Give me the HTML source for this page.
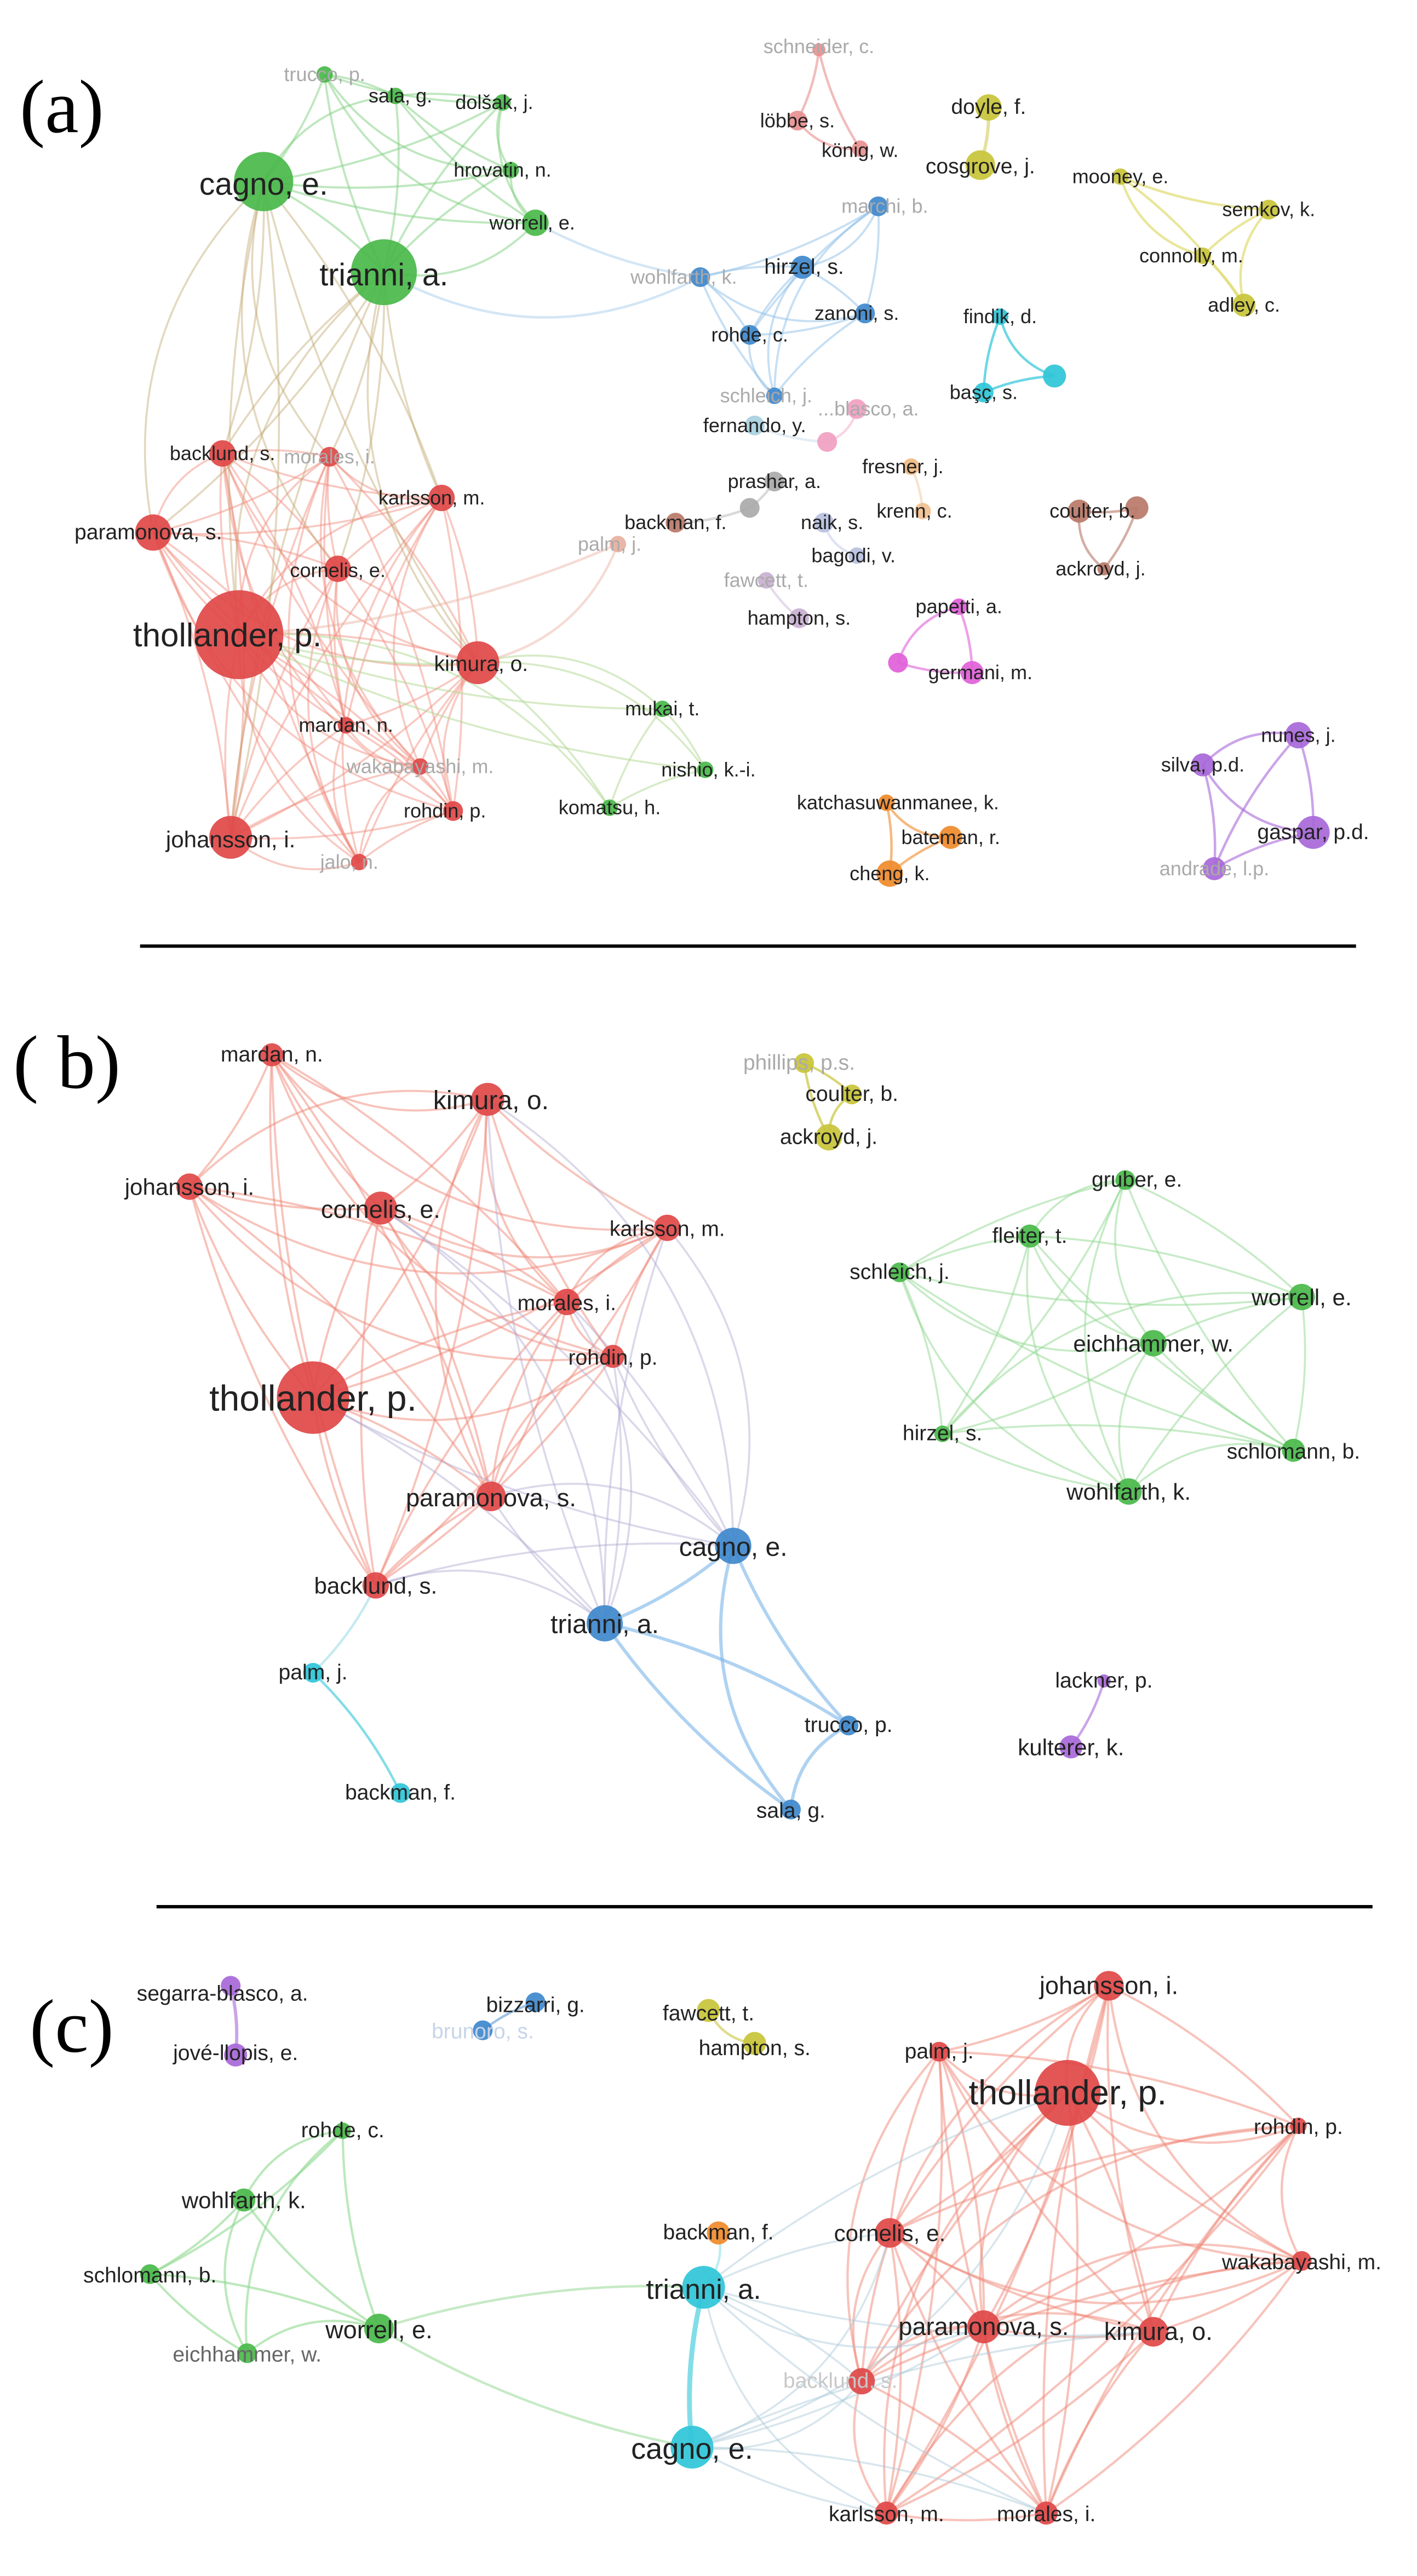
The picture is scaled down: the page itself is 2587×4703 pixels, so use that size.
<!DOCTYPE html>
<html><head><meta charset="utf-8">
<style>
html,body{margin:0;padding:0;background:#fff;}
svg{display:block;}
text{font-family:"Liberation Sans",sans-serif;fill:#222;text-anchor:middle;}
.pl{font-family:"Liberation Serif",serif;font-size:46px;text-anchor:start;fill:#000;}
.g{fill:#aaa;}
</style></head><body>
<svg id="s" width="2587" height="4703" viewBox="0 0 860 1563" xmlns="http://www.w3.org/2000/svg">
<g id="edges" fill="none"></g>
<g id="nodes"></g>
<text class="pl" x="12" y="80">(a)</text>
<text class="pl" x="8" y="660">( b)</text>
<text class="pl" x="18" y="1245">(c)</text>
<line x1="85" y1="574" x2="823" y2="574" stroke="#000" stroke-width="2"/>
<line x1="95" y1="1157" x2="833" y2="1157" stroke="#000" stroke-width="2"/>
<g id="labels">
<!-- (a) -->
<text class="g" x="197" y="49" font-size="12">trucco, p.</text>
<text x="243" y="62" font-size="12">sala, g.</text>
<text x="300" y="66" font-size="12">dolšak, j.</text>
<text x="305" y="107" font-size="12">hrovatin, n.</text>
<text x="160" y="118" font-size="19">cagno, e.</text>
<text x="233" y="173" font-size="19">trianni, a.</text>
<text x="323" y="139" font-size="12">worrell, e.</text>
<text x="135" y="279" font-size="12">backlund, s.</text>
<text class="g" x="200" y="281" font-size="12">morales, i.</text>
<text x="262" y="306" font-size="12">karlsson, m.</text>
<text x="90" y="327" font-size="13">paramonova, s.</text>
<text x="205" y="350" font-size="12">cornelis, e.</text>
<text x="138" y="392" font-size="20">thollander, p.</text>
<text x="292" y="407" font-size="13">kimura, o.</text>
<text x="210" y="444" font-size="12">mardan, n.</text>
<text class="g" x="255" y="469" font-size="12">wakabayashi, m.</text>
<text x="270" y="496" font-size="12">rohdin, p.</text>
<text x="140" y="514" font-size="14">johansson, i.</text>
<text class="g" x="212" y="527" font-size="12">jalo, n.</text>
<text class="g" x="370" y="334" font-size="12">palm, j.</text>
<text x="402" y="434" font-size="12">mukai, t.</text>
<text x="430" y="471" font-size="12">nishio, k.-i.</text>
<text x="370" y="494" font-size="12">komatsu, h.</text>
<text class="g" x="415" y="172" font-size="12">wohlfarth, k.</text>
<text x="488" y="166" font-size="13">hirzel, s.</text>
<text class="g" x="537" y="129" font-size="12">marchi, b.</text>
<text x="520" y="194" font-size="12">zanoni, s.</text>
<text x="455" y="207" font-size="12">rohde, c.</text>
<text class="g" x="465" y="244" font-size="12">schleich, j.</text>
<text class="g" x="497" y="32" font-size="12">schneider, c.</text>
<text x="484" y="77" font-size="12">löbbe, s.</text>
<text x="522" y="95" font-size="12">könig, w.</text>
<text x="600" y="69" font-size="13">doyle, f.</text>
<text x="595" y="105" font-size="13">cosgrove, j.</text>
<text x="680" y="111" font-size="12">mooney, e.</text>
<text x="770" y="131" font-size="12">semkov, k.</text>
<text x="723" y="159" font-size="12">connolly, m.</text>
<text x="755" y="189" font-size="12">adley, c.</text>
<text x="607" y="196" font-size="12">findik, d.</text>
<text x="597" y="242" font-size="12">başç, s.</text>
<text x="458" y="262" font-size="12">fernando, y.</text>
<text class="g" x="527" y="252" font-size="12">...blasco, a.</text>
<text x="470" y="296" font-size="12">prashar, a.</text>
<text x="548" y="287" font-size="12">fresner, j.</text>
<text x="410" y="321" font-size="12">backman, f.</text>
<text x="505" y="321" font-size="12">naik, s.</text>
<text x="555" y="314" font-size="12">krenn, c.</text>
<text x="518" y="341" font-size="12">bagodi, v.</text>
<text x="663" y="314" font-size="12">coulter, b.</text>
<text x="668" y="349" font-size="12">ackroyd, j.</text>
<text class="g" x="465" y="356" font-size="12">fawcett, t.</text>
<text x="485" y="379" font-size="12">hampton, s.</text>
<text x="582" y="372" font-size="12">papetti, a.</text>
<text x="595" y="412" font-size="12">germani, m.</text>
<text x="788" y="450" font-size="12">nunes, j.</text>
<text x="730" y="468" font-size="12">silva, p.d.</text>
<text x="797" y="509" font-size="13">gaspar, p.d.</text>
<text class="g" x="737" y="531" font-size="12">andrade, l.p.</text>
<text x="545" y="491" font-size="12">katchasuwanmanee, k.</text>
<text x="577" y="512" font-size="12">bateman, r.</text>
<text x="540" y="534" font-size="12">cheng, k.</text>
<!-- (b) -->
<text x="165" y="644" font-size="13">mardan, n.</text>
<text class="g" x="485" y="649" font-size="13">phillips, p.s.</text>
<text x="517" y="668" font-size="13">coulter, b.</text>
<text x="503" y="694" font-size="13">ackroyd, j.</text>
<text x="298" y="673" font-size="16">kimura, o.</text>
<text x="115" y="725" font-size="14">johansson, i.</text>
<text x="231" y="739" font-size="15">cornelis, e.</text>
<text x="405" y="750" font-size="13">karlsson, m.</text>
<text x="690" y="720" font-size="13">gruber, e.</text>
<text x="625" y="754" font-size="13">fleiter, t.</text>
<text x="790" y="792" font-size="14">worrell, e.</text>
<text x="546" y="776" font-size="13">schleich, j.</text>
<text x="700" y="820" font-size="14">eichhammer, w.</text>
<text x="344" y="795" font-size="13">morales, i.</text>
<text x="190" y="856" font-size="22">thollander, p.</text>
<text x="372" y="828" font-size="13">rohdin, p.</text>
<text x="572" y="874" font-size="13">hirzel, s.</text>
<text x="785" y="885" font-size="13">schlomann, b.</text>
<text x="685" y="910" font-size="14">wohlfarth, k.</text>
<text x="298" y="914" font-size="15">paramonova, s.</text>
<text x="445" y="944" font-size="16">cagno, e.</text>
<text x="228" y="967" font-size="14">backlund, s.</text>
<text x="367" y="991" font-size="16">trianni, a.</text>
<text x="190" y="1019" font-size="13">palm, j.</text>
<text x="515" y="1051" font-size="13">trucco, p.</text>
<text x="670" y="1024" font-size="13">lackner, p.</text>
<text x="650" y="1065" font-size="14">kulterer, k.</text>
<text x="243" y="1092" font-size="13">backman, f.</text>
<text x="480" y="1103" font-size="13">sala, g.</text>
<!-- (c) -->
<text x="135" y="1214" font-size="13">segarra-blasco, a.</text>
<text x="325" y="1221" font-size="13">bizzarri, g.</text>
<text class="g" x="293" y="1237" font-size="13" fill="#ccc" style="fill:#c8d4e8">brunoro, s.</text>
<text x="430" y="1226" font-size="13">fawcett, t.</text>
<text x="458" y="1247" font-size="13">hampton, s.</text>
<text x="570" y="1249" font-size="13">palm, j.</text>
<text x="673" y="1210" font-size="15">johansson, i.</text>
<text x="648" y="1277" font-size="21">thollander, p.</text>
<text x="143" y="1250" font-size="13">jové-llopis, e.</text>
<text x="208" y="1297" font-size="13">rohde, c.</text>
<text x="788" y="1295" font-size="13">rohdin, p.</text>
<text x="148" y="1340" font-size="14">wohlfarth, k.</text>
<text x="436" y="1359" font-size="13">backman, f.</text>
<text x="540" y="1360" font-size="14">cornelis, e.</text>
<text x="427" y="1395" font-size="17">trianni, a.</text>
<text x="91" y="1385" font-size="13">schlomann, b.</text>
<text x="790" y="1377" font-size="13">wakabayashi, m.</text>
<text x="230" y="1419" font-size="15">worrell, e.</text>
<text x="150" y="1433" font-size="13" style="fill:#666">eichhammer, w.</text>
<text x="597" y="1417" font-size="15">paramonova, s.</text>
<text x="703" y="1420" font-size="15">kimura, o.</text>
<text x="510" y="1449" font-size="13" style="fill:#c8c8c8">backlund, s.</text>
<text x="420" y="1492" font-size="18">cagno, e.</text>
<text x="538" y="1530" font-size="13">karlsson, m.</text>
<text x="635" y="1530" font-size="13">morales, i.</text>
</g>
</svg>
<script>
var N={};
function n(id,x,y,r,c){N[id]=[x,y,r,c];}
var R='#e04848',G='#49b84a',B='#3f88cc',Y='#c8c43a',C='#2fc6d8',P='#a868d8',O='#ef8a2a',M='#e060d8',PK='#f0a0c0',BR='#b87868',GR='#aaa',LB='#a8d0e0';
// (a)
n('a_tru',197,45,5,G);n('a_sal',240,58,5,G);n('a_dol',305,62,5,G);n('a_hro',310,103,5,G);
n('a_cag',160,110,18,G);n('a_tri',233,165,20,G);n('a_wor',325,135,8,G);
n('a_bac',135,275,8,R);n('a_mor',200,277,6,R);n('a_kar',268,302,8,R);n('a_par',93,323,11,R);
n('a_cor',205,345,8,R);n('a_tho',145,385,27,R);n('a_kim',290,402,13,R);n('a_mar',210,440,5,R);
n('a_wak',255,465,5,R);n('a_roh',275,492,6,R);n('a_joh',140,508,13,R);n('a_jal',218,523,5,R);
n('a_pal',375,330,5,'#e8b0a0');n('a_muk',402,430,5,G);n('a_nis',428,467,5,G);n('a_kom',370,490,5,G);
n('a_woh',425,168,6,B);n('a_hir',487,162,7,B);n('a_mar2',533,125,6,B);n('a_zan',525,190,6,B);n('a_rhd',455,203,6,B);n('a_sch',470,240,5,B);
n('a_snd',497,30,4,'#e89090');n('a_lob',484,73,6,'#e89090');n('a_kon',522,90,5,'#e89090');
n('a_doy',600,65,8,Y);n('a_cos',595,100,9,Y);n('a_moo',680,107,5,Y);n('a_sem',770,127,6,Y);n('a_con',730,155,5,Y);n('a_adl',755,185,7,Y);
n('a_fin',607,192,5,C);n('a_bas',597,238,6,C);n('a_c3',640,228,7,C);
n('a_fer',458,258,6,LB);n('a_pk1',502,268,6,PK);n('a_pk2',520,248,6,PK);
n('a_pra',470,292,6,GR);n('a_gr2',455,308,6,GR);n('a_fre',553,283,5,'#f0b880');n('a_bkm',410,317,6,BR);n('a_nai',500,317,6,'#b8c0e0');n('a_kre',560,310,5,'#f0c090');n('a_bag',520,337,5,'#b8c0e0');
n('a_cou',655,310,7,BR);n('a_br2',690,308,7,BR);n('a_ack',670,345,4,BR);
n('a_faw',465,352,5,'#c8b0d0');n('a_ham',485,375,6,'#c8b0d0');
n('a_pap',582,368,5,M);n('a_m2',545,402,6,M);n('a_ger',590,408,7,M);
n('a_nun',788,446,8,P);n('a_sil',730,464,7,P);n('a_gas',797,505,10,P);n('a_and',737,527,7,P);
n('a_kat',538,487,5,O);n('a_bat',577,508,7,O);n('a_che',540,530,8,O);
// (b)
n('b_mar',165,640,7,R);n('b_phi',488,645,6,Y);n('b_cou',517,664,6,Y);n('b_ack',503,690,8,Y);
n('b_kim',296,667,10,R);n('b_joh',115,720,8,R);n('b_cor',231,733,10,R);n('b_kar',405,745,8,R);
n('b_gru',683,716,6,G);n('b_fle',625,750,7,G);n('b_wor',790,787,8,G);n('b_sch',546,772,6,G);n('b_eic',700,815,8,G);
n('b_mor',344,790,8,R);n('b_tho',190,848,22,R);n('b_roh',372,823,7,R);n('b_hir',572,870,5,G);n('b_sln',785,880,7,G);n('b_woh',685,905,8,G);
n('b_par',298,908,9,R);n('b_cag',445,938,11,B);n('b_bac',228,962,8,R);n('b_tri',367,985,11,B);
n('b_pal',190,1015,6,C);n('b_tru',515,1047,6,B);n('b_lac',670,1020,4,P);n('b_kul',650,1060,7,P);n('b_bkm',243,1088,6,C);n('b_sal',480,1098,6,B);
// (c)
n('c_seg',140,1205,6,P);n('c_jov',143,1247,7,P);n('c_biz',325,1215,6,B);n('c_bru',293,1232,6,B);n('c_faw',430,1220,7,Y);n('c_ham',458,1240,7,Y);
n('c_pal',570,1245,6,R);n('c_joh',673,1205,9,R);n('c_tho',648,1270,20,R);n('c_rhd',208,1293,5,G);n('c_roh',788,1290,5,R);
n('c_woh',148,1335,7,G);n('c_bkm',436,1355,7,O);n('c_cor',540,1355,9,R);n('c_tri',427,1388,13,C);
n('c_sln',91,1380,6,G);n('c_wak',790,1372,6,R);n('c_wor',230,1413,9,G);n('c_eic',150,1428,6,G);
n('c_par',597,1412,10,R);n('c_kim',700,1415,9,R);n('c_bac',523,1445,8,R);n('c_cag',420,1485,13,C);
n('c_kar',538,1525,7,R);n('c_mor',635,1525,7,R);
var E=[];
function e(a,b,c,w,o){E.push([a,b,c,w||1.5,o||0.45]);}
function clique(list,c,w,o){for(var i=0;i<list.length;i++)for(var j=i+1;j<list.length;j++)e(list[i],list[j],c,w,o);}
// (a)
var ar=['a_bac','a_mor','a_kar','a_par','a_cor','a_tho','a_kim','a_mar','a_wak','a_roh','a_joh','a_jal'];
clique(ar,'#f08878',1.2,0.45);
var ag=['a_tru','a_sal','a_dol','a_hro','a_cag','a_tri','a_wor'];
clique(ag,'#80d080',1.3,0.5);
['a_bac','a_par','a_tho','a_kar','a_cor','a_kim','a_joh','a_mor'].forEach(function(x){e('a_cag',x,'#c0a870',1.2,0.45);e('a_tri',x,'#c0a870',1.2,0.45);});
e('a_tho','a_pal','#e8b0a0');e('a_kim','a_pal','#e8b0a0');
clique(['a_muk','a_nis','a_kom','a_kim','a_tho'],'#b0d890',1.2,0.5);
e('a_wor','a_woh','#a0c8e8');e('a_tri','a_woh','#a0c8e8');
clique(['a_woh','a_hir','a_mar2','a_zan','a_rhd','a_sch'],'#90c0e8',1.3,0.5);
clique(['a_snd','a_lob','a_kon'],'#e89090',1.5,0.6);
e('a_doy','a_cos',Y,2,0.5);clique(['a_moo','a_sem','a_con','a_adl'],'#e0dc70',1.5,0.7);
clique(['a_fin','a_bas','a_c3'],C,1.5,0.7);
e('a_fer','a_pk1','#c0d8e8');e('a_pk1','a_pk2',PK);e('a_pra','a_gr2',GR);e('a_bkm','a_gr2',GR);e('a_nai','a_bag','#b8c0e0');e('a_fre','a_kre','#f0c090');
clique(['a_cou','a_br2','a_ack'],BR,1.5,0.6);e('a_faw','a_ham','#c8b0d0');
clique(['a_pap','a_m2','a_ger'],M,1.5,0.6);
clique(['a_nun','a_sil','a_gas','a_and'],P,1.5,0.6);
clique(['a_kat','a_bat','a_che'],O,1.5,0.6);
// (b)
var br=['b_mar','b_kim','b_joh','b_cor','b_kar','b_mor','b_tho','b_roh','b_par','b_bac'];
clique(br,'#f08878',1.3,0.5);
['b_kar','b_mor','b_roh','b_par','b_bac','b_tho','b_kim','b_cor'].forEach(function(x){e('b_cag',x,'#b0a8d0',1.2,0.45);e('b_tri',x,'#b0a8d0',1.2,0.45);});
clique(['b_cag','b_tri','b_tru','b_sal'],'#7ab4e8',2,0.6);
clique(['b_phi','b_cou','b_ack'],Y,1.5,0.7);
e('b_pal','b_bkm',C,1.5,0.6);e('b_pal','b_bac','#80d0e0');
clique(['b_gru','b_fle','b_wor','b_sch','b_eic','b_hir','b_sln','b_woh'].slice(0,8).filter(function(x,i){return true}),'#90d890',1.2,0.5);
e('b_lac','b_kul',P,1.5,0.6);
// (c)
var cr=['c_pal','c_joh','c_tho','c_roh','c_cor','c_wak','c_par','c_kim','c_bac','c_kar','c_mor'];
clique(cr,'#f08878',1.4,0.5);
['c_cor','c_par','c_kim','c_bac','c_kar','c_mor','c_tho'].forEach(function(x){e('c_cag',x,'#a8c8d8',1.2,0.45);e('c_tri',x,'#a8c8d8',1.2,0.45);});
e('c_tri','c_cag',C,3,0.6);e('c_tri','c_bkm','#70d8e0');
e('c_wor','c_tri','#a0dca0',1.5,0.6);e('c_wor','c_cag','#a0dca0',1.5,0.6);
clique(['c_rhd','c_woh','c_sln','c_wor','c_eic'],'#90d890',1.4,0.6);
e('c_seg','c_jov',P,2,0.6);e('c_biz','c_bru',B,1.5,0.5);e('c_faw','c_ham',Y,1.5,0.6);
var eg=document.getElementById('edges'),s='';
E.forEach(function(k,i){var a=N[k[0]],b=N[k[1]];var mx=(a[0]+b[0])/2,my=(a[1]+b[1])/2,dx=b[0]-a[0],dy=b[1]-a[1];var f=0.18*((i%3)-1+0.5);var cx=mx-dy*f,cy=my+dx*f;
s+='<path d="M'+a[0]+' '+a[1]+' Q'+cx+' '+cy+' '+b[0]+' '+b[1]+'" stroke="'+k[2]+'" stroke-width="'+k[3]+'" opacity="'+k[4]+'"/>';});
eg.innerHTML=s;
var ng=document.getElementById('nodes'),t='';
for(var id in N){var v=N[id];t+='<circle cx="'+v[0]+'" cy="'+v[1]+'" r="'+v[2]+'" fill="'+v[3]+'" opacity="0.92"/>';}
ng.innerHTML=t;
</script>
</body></html>
